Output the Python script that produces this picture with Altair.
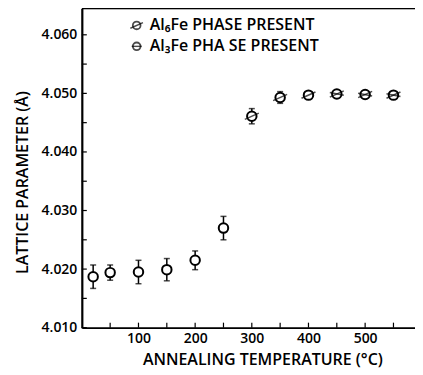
import altair as alt
import pandas as pd

# ---- data ----
temps = [20, 50, 100, 150, 200, 250, 300, 350, 400, 450, 500, 550]
lattice = [4.0187, 4.0194, 4.0195, 4.0199, 4.0215, 4.0270, 4.0461, 4.0493, 4.0497, 4.0499, 4.0498, 4.0497]
errors = [0.0020, 0.0013, 0.0020, 0.0019, 0.0016, 0.0020, 0.0013, 0.0010, 0.0004, 0.0004, 0.0004, 0.0004]
phase = ["none", "none", "none", "none", "none", "none", "Al6Fe", "Al6Fe", "Al6Fe", "both", "both", "both"]

x_ticks = [50, 100, 150, 200, 250, 300, 350, 400, 450, 500, 550]
x_labels = [100, 200, 300, 400, 500]
y_ticks = [4.010, 4.015, 4.020, 4.025, 4.030, 4.035, 4.040, 4.045, 4.050, 4.055, 4.060]
y_labels = [4.010, 4.020, 4.030, 4.040, 4.050, 4.060]
legend_labels = ["Al\u2086Fe PHASE PRESENT", "Al\u2083Fe PHA SE PRESENT"]

W, H = 334, 320
FONT = "Open Sans"

df = pd.DataFrame({"t": temps, "a": lattice, "e": errors, "phase": phase})
df["lo"] = df["a"] - df["e"]
df["hi"] = df["a"] + df["e"]

xs = alt.Scale(domain=[0, 588], nice=False, zero=False)
ys = alt.Scale(domain=[4.010, 4.0645], nice=False, zero=False)

xax = alt.Axis(values=x_labels, format="d", ticks=False, grid=False, domain=True,
               domainColor="black", domainWidth=1.6, labelFont=FONT, labelFontSize=14,
               labelFontWeight=600, labelColor="black", labelPadding=4,
               title="ANNEALING TEMPERATURE (\u00b0C)", titleFont=FONT, titleFontSize=16,
               titleFontWeight=600, titleColor="black", titlePadding=6, titleX=181)
yax = alt.Axis(values=y_labels, format=".3f", ticks=False, grid=False, domain=True,
               domainColor="black", domainWidth=2.2, labelFont=FONT, labelFontSize=14,
               labelFontWeight=600, labelColor="black", labelPadding=5,
               title="LATTICE PARAMETER (\u00c5)", titleFont=FONT, titleFontSize=16,
               titleFontWeight=600, titleColor="black", titlePadding=11, titleY=174)

base = alt.Chart(df)
X = alt.X("t:Q", scale=xs, axis=xax)
Y = alt.Y("a:Q", scale=ys, axis=yax)

errbars = base.mark_rule(color="black", strokeWidth=1.5).encode(
    x=X, y=alt.Y("lo:Q", scale=ys, axis=yax), y2="hi:Q")
cap_shape = "M-1,0L1,0"
caps_lo = base.mark_point(shape=cap_shape, size=36, color="black", strokeWidth=1.5, filled=False).encode(
    x=X, y=alt.Y("lo:Q", scale=ys, axis=yax))
caps_hi = base.mark_point(shape=cap_shape, size=36, color="black", strokeWidth=1.5, filled=False).encode(
    x=X, y=alt.Y("hi:Q", scale=ys, axis=yax))

circles = base.mark_point(shape="circle", size=90, filled=True, fill="white",
                          stroke="black", strokeWidth=2, opacity=1).encode(x=X, y=Y)

slash = base.transform_filter(alt.datum.phase != "none").mark_point(
    shape="M-1,0.45L1,-0.45", size=196, filled=False, color="black", strokeWidth=1.5).encode(x=X, y=Y)
hbar = base.transform_filter(alt.datum.phase == "both").mark_point(
    shape="M-1,-0.2L1,0.2", size=196, filled=False, color="black", strokeWidth=1.5).encode(x=X, y=Y)

# inward minor/major ticks
xt = alt.Chart(pd.DataFrame({"t": x_ticks})).mark_rule(color="black", strokeWidth=1.2).encode(
    x=X, y=alt.value(H), y2=alt.value(H - 5))
yt = alt.Chart(pd.DataFrame({"v": y_ticks})).mark_rule(color="black", strokeWidth=1.2).encode(
    y=alt.Y("v:Q", scale=ys, axis=yax), x=alt.value(0), x2=alt.value(5))

top = alt.Chart(pd.DataFrame({"v": [0]})).mark_rule(color="black", strokeWidth=1.5).encode(
    y=alt.value(0), x=alt.value(0), x2=alt.value(W))

# manual legend (one layer per row, placed in pixels)
leg = pd.DataFrame({"label": legend_labels, "row": [0, 1]})
rows_y = [17, 38]
legend_layers = []
for r, yy in enumerate(rows_y):
    src = alt.Chart(leg).transform_filter(alt.datum.row == r)
    legend_layers.append(src.mark_text(align="left", baseline="middle", font=FONT, fontSize=16,
                                       fontWeight=600, color="black").encode(
        text="label:N", x=alt.value(68), y=alt.value(yy)))
    legend_layers.append(src.mark_point(shape="circle", size=60, filled=True, fill="white",
                                        stroke="black", strokeWidth=1.8).encode(
        x=alt.value(55), y=alt.value(yy)))
    mark_shape = "M-1,0.45L1,-0.45" if r == 0 else "M-1,0L1,0"
    legend_layers.append(src.mark_point(shape=mark_shape, size=160 if r == 0 else 100, filled=False,
                                        color="black", strokeWidth=1.4).encode(
        x=alt.value(55), y=alt.value(yy)))

chart = alt.layer(errbars, caps_lo, caps_hi, circles, slash, hbar, xt, yt, top,
                  *legend_layers).properties(
    width=W, height=H,
    autosize=alt.AutoSizeParams(type="none"),
    padding={"left": 74, "top": 0, "right": 0, "bottom": 44},
).configure_view(stroke=None).configure(background="white")

chart.save("out.html", embed_options={"renderer": "svg", "actions": False})
